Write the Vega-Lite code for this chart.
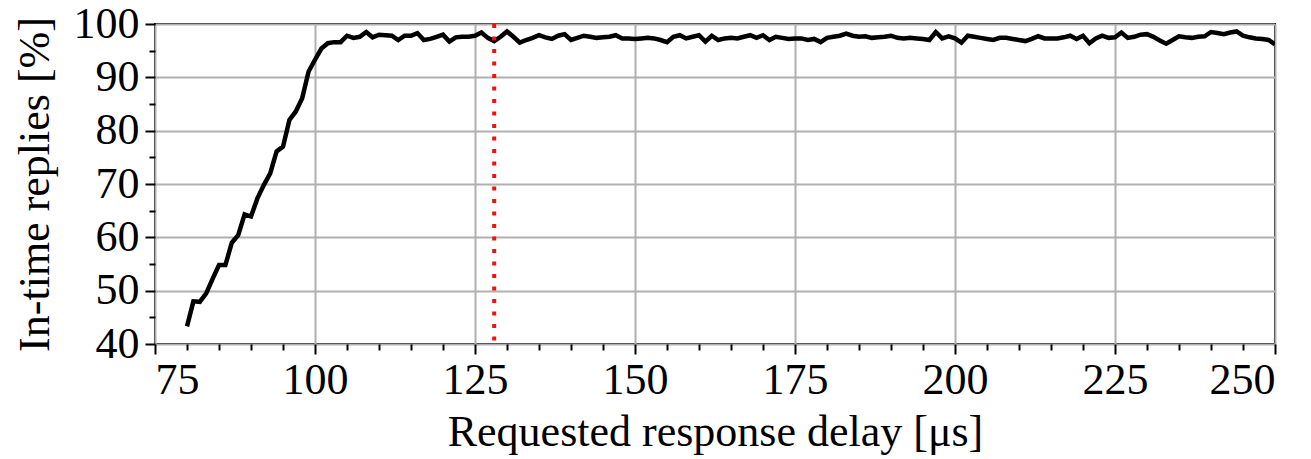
{
  "$schema": "https://vega.github.io/schema/vega-lite/v6.json",
  "width": 1120,
  "height": 320,
  "autosize": {"type": "none"},
  "padding": {"left": 155, "top": 24, "right": 36, "bottom": 115},
  "background": "white",
  "config": {
    "view": {"stroke": "black", "strokeWidth": 2},
    "font": "Liberation Serif",
    "axis": {
      "labelFont": "Liberation Serif",
      "titleFont": "Liberation Serif",
      "labelFontSize": 44,
      "titleFontSize": 44,
      "titleFontWeight": "normal",
      "labelColor": "black",
      "titleColor": "black",
      "domain": false,
      "tickColor": "black",
      "tickWidth": 2,
      "tickCount": 200,
      "format": "d",
      "gridColor": "#b0b0b0",
      "gridWidth": 2,
      "labelOverlap": false,
      "labelBound": false
    }
  },
  "datasets": {
    "replies": [
      {"delay": 80, "pct": 43.3}, {"delay": 81, "pct": 48.0}, {"delay": 82, "pct": 47.9}, {"delay": 83, "pct": 49.5},
      {"delay": 84, "pct": 52.2}, {"delay": 85, "pct": 54.8}, {"delay": 86, "pct": 54.8}, {"delay": 87, "pct": 59.0},
      {"delay": 88, "pct": 60.4}, {"delay": 89, "pct": 64.3}, {"delay": 90, "pct": 63.9}, {"delay": 91, "pct": 67.3},
      {"delay": 92, "pct": 69.8}, {"delay": 93, "pct": 72.0}, {"delay": 94, "pct": 76.1}, {"delay": 95, "pct": 77.0},
      {"delay": 96, "pct": 82.0}, {"delay": 97, "pct": 83.6}, {"delay": 98, "pct": 86.1}, {"delay": 99, "pct": 91.1},
      {"delay": 100, "pct": 93.3}, {"delay": 101, "pct": 95.4}, {"delay": 102, "pct": 96.4}, {"delay": 103, "pct": 96.6},
      {"delay": 104, "pct": 96.6}, {"delay": 105, "pct": 97.8}, {"delay": 106, "pct": 97.4}, {"delay": 107, "pct": 97.6},
      {"delay": 108, "pct": 98.5}, {"delay": 109, "pct": 97.5}, {"delay": 110, "pct": 98.0}, {"delay": 111, "pct": 97.9},
      {"delay": 112, "pct": 97.8}, {"delay": 113, "pct": 97.0}, {"delay": 114, "pct": 97.8}, {"delay": 115, "pct": 97.8},
      {"delay": 116, "pct": 98.3}, {"delay": 117, "pct": 97.0}, {"delay": 118, "pct": 97.2}, {"delay": 119, "pct": 97.6},
      {"delay": 120, "pct": 98.0}, {"delay": 121, "pct": 96.7}, {"delay": 122, "pct": 97.5}, {"delay": 123, "pct": 97.6},
      {"delay": 124, "pct": 97.6}, {"delay": 125, "pct": 97.8}, {"delay": 126, "pct": 98.4}, {"delay": 127, "pct": 97.4},
      {"delay": 128, "pct": 96.8}, {"delay": 129, "pct": 97.6}, {"delay": 130, "pct": 98.6}, {"delay": 131, "pct": 97.6},
      {"delay": 132, "pct": 96.5}, {"delay": 133, "pct": 97.0}, {"delay": 134, "pct": 97.4}, {"delay": 135, "pct": 97.9},
      {"delay": 136, "pct": 97.5}, {"delay": 137, "pct": 97.2}, {"delay": 138, "pct": 97.8}, {"delay": 139, "pct": 98.1},
      {"delay": 140, "pct": 97.0}, {"delay": 141, "pct": 97.4}, {"delay": 142, "pct": 97.8}, {"delay": 143, "pct": 97.6},
      {"delay": 144, "pct": 97.4}, {"delay": 145, "pct": 97.5}, {"delay": 146, "pct": 97.6}, {"delay": 147, "pct": 97.9},
      {"delay": 148, "pct": 97.3}, {"delay": 149, "pct": 97.3}, {"delay": 150, "pct": 97.2}, {"delay": 151, "pct": 97.3},
      {"delay": 152, "pct": 97.4}, {"delay": 153, "pct": 97.3}, {"delay": 154, "pct": 97.0}, {"delay": 155, "pct": 96.6},
      {"delay": 156, "pct": 97.6}, {"delay": 157, "pct": 97.9}, {"delay": 158, "pct": 97.3}, {"delay": 159, "pct": 97.6},
      {"delay": 160, "pct": 97.9}, {"delay": 161, "pct": 96.7}, {"delay": 162, "pct": 97.8}, {"delay": 163, "pct": 97.0},
      {"delay": 164, "pct": 97.3}, {"delay": 165, "pct": 97.4}, {"delay": 166, "pct": 97.3}, {"delay": 167, "pct": 97.6},
      {"delay": 168, "pct": 97.9}, {"delay": 169, "pct": 97.4}, {"delay": 170, "pct": 97.9}, {"delay": 171, "pct": 97.0},
      {"delay": 172, "pct": 97.6}, {"delay": 173, "pct": 97.4}, {"delay": 174, "pct": 97.2}, {"delay": 175, "pct": 97.3},
      {"delay": 176, "pct": 97.3}, {"delay": 177, "pct": 97.0}, {"delay": 178, "pct": 97.2}, {"delay": 179, "pct": 96.6},
      {"delay": 180, "pct": 97.4}, {"delay": 181, "pct": 97.6}, {"delay": 182, "pct": 97.8}, {"delay": 183, "pct": 98.2},
      {"delay": 184, "pct": 97.8}, {"delay": 185, "pct": 97.6}, {"delay": 186, "pct": 97.7}, {"delay": 187, "pct": 97.4},
      {"delay": 188, "pct": 97.5}, {"delay": 189, "pct": 97.6}, {"delay": 190, "pct": 97.8}, {"delay": 191, "pct": 97.4},
      {"delay": 192, "pct": 97.3}, {"delay": 193, "pct": 97.4}, {"delay": 194, "pct": 97.3}, {"delay": 195, "pct": 97.2},
      {"delay": 196, "pct": 97.0}, {"delay": 197, "pct": 98.5}, {"delay": 198, "pct": 97.3}, {"delay": 199, "pct": 97.7},
      {"delay": 200, "pct": 97.3}, {"delay": 201, "pct": 96.5}, {"delay": 202, "pct": 97.8}, {"delay": 203, "pct": 97.6},
      {"delay": 204, "pct": 97.4}, {"delay": 205, "pct": 97.2}, {"delay": 206, "pct": 97.0}, {"delay": 207, "pct": 97.4},
      {"delay": 208, "pct": 97.4}, {"delay": 209, "pct": 97.2}, {"delay": 210, "pct": 97.0}, {"delay": 211, "pct": 96.8},
      {"delay": 212, "pct": 97.2}, {"delay": 213, "pct": 97.7}, {"delay": 214, "pct": 97.3}, {"delay": 215, "pct": 97.3},
      {"delay": 216, "pct": 97.3}, {"delay": 217, "pct": 97.5}, {"delay": 218, "pct": 97.8}, {"delay": 219, "pct": 97.2},
      {"delay": 220, "pct": 97.8}, {"delay": 221, "pct": 96.4}, {"delay": 222, "pct": 97.3}, {"delay": 223, "pct": 97.8},
      {"delay": 224, "pct": 97.4}, {"delay": 225, "pct": 97.5}, {"delay": 226, "pct": 98.4}, {"delay": 227, "pct": 97.4},
      {"delay": 228, "pct": 97.6}, {"delay": 229, "pct": 98.0}, {"delay": 230, "pct": 98.1}, {"delay": 231, "pct": 97.6},
      {"delay": 232, "pct": 96.9}, {"delay": 233, "pct": 96.3}, {"delay": 234, "pct": 97.0}, {"delay": 235, "pct": 97.7},
      {"delay": 236, "pct": 97.5}, {"delay": 237, "pct": 97.4}, {"delay": 238, "pct": 97.6}, {"delay": 239, "pct": 97.7},
      {"delay": 240, "pct": 98.5}, {"delay": 241, "pct": 98.3}, {"delay": 242, "pct": 98.1}, {"delay": 243, "pct": 98.4},
      {"delay": 244, "pct": 98.6}, {"delay": 245, "pct": 97.8}, {"delay": 246, "pct": 97.5}, {"delay": 247, "pct": 97.3},
      {"delay": 248, "pct": 97.2}, {"delay": 249, "pct": 97.0}, {"delay": 250, "pct": 96.2}
    ],
    "marker": [{"delay": 128}]
  },
  "layer": [
    {
      "data": {"name": "replies"},
      "mark": {"type": "line", "color": "black", "strokeWidth": 4.5, "strokeJoin": "miter", "clip": true},
      "encoding": {
        "x": {
          "field": "delay",
          "type": "quantitative",
          "title": "Requested response delay [μs]",
          "scale": {"domain": [75, 250], "nice": false, "zero": false},
          "axis": {
            "values": [75, 80, 85, 90, 95, 100, 105, 110, 115, 120, 125, 130, 135, 140, 145, 150, 155, 160, 165, 170, 175, 180, 185, 190, 195, 200, 205, 210, 215, 220, 225, 230, 235, 240, 245, 250],
            "tickCount": 200,
            "format": "d",
            "labelExpr": "(datum.value - 75) % 25 === 0 ? datum.label : ''",
            "tickSize": {"condition": {"test": "(datum.value - 75) % 25 === 0", "value": 10}, "value": 6},
            "gridOpacity": {"condition": {"test": "(datum.value - 75) % 25 === 0", "value": 1}, "value": 0},
            "labelPadding": 4,
            "titlePadding": 8
          }
        },
        "y": {
          "field": "pct",
          "type": "quantitative",
          "title": "In-time replies [%]",
          "scale": {"domain": [40, 100], "nice": false, "zero": false},
          "axis": {
            "values": [40, 45, 50, 55, 60, 65, 70, 75, 80, 85, 90, 95, 100],
            "tickCount": 200,
            "format": "d",
            "labelExpr": "datum.value % 10 === 0 ? datum.label : ''",
            "tickSize": {"condition": {"test": "datum.value % 10 === 0", "value": 10}, "value": 6},
            "gridOpacity": {"condition": {"test": "datum.value % 10 === 0", "value": 1}, "value": 0},
            "labelPadding": 6,
            "titlePadding": 16
          }
        }
      }
    },
    {
      "data": {"name": "marker"},
      "mark": {"type": "rule", "color": "#ee1111", "strokeWidth": 4, "strokeDash": [4, 8.5]},
      "encoding": {
        "x": {"field": "delay", "type": "quantitative"}
      }
    }
  ]
}
